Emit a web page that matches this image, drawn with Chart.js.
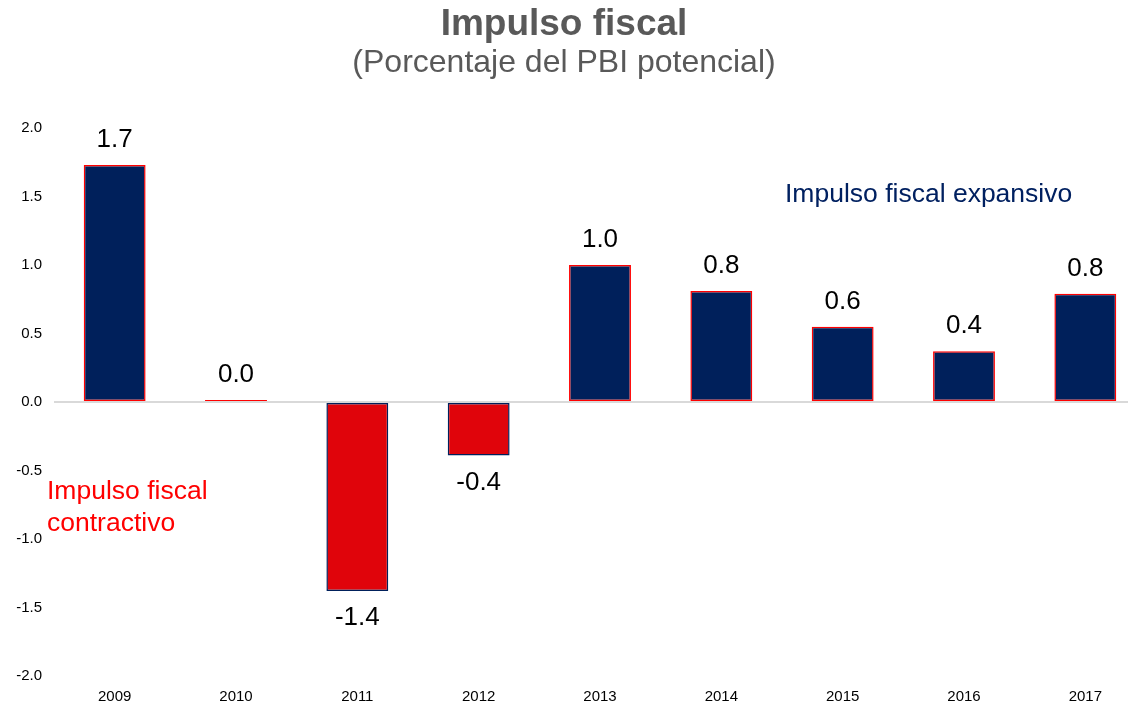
<!DOCTYPE html>
<html>
<head>
<meta charset="utf-8">
<script src="https://cdn.jsdelivr.net/npm/chart.js@4.4.1/dist/chart.umd.min.js"></script>
<style>
    html, body { margin: 0; padding: 0; background: #fff; overflow: hidden; }
    #wrap { position: relative; width: 1128px; height: 703px; overflow: hidden; font-family: "Liberation Sans", Arial, sans-serif; }
    #fiscalChart { position: absolute; left: 0; top: 0; }
    .title { position: absolute; left: 0; width: 1128px; text-align: center; color: #595959; }
    .note { position: absolute; font-size: 26.5px; line-height: 32px; }
</style>
</head>
<body>
<div id="wrap">
    <canvas id="fiscalChart" width="1146" height="703"></canvas>
    <div class="title" style="top:2px; font-size:37px; font-weight:bold;">Impulso fiscal</div>
    <div class="title" style="top:43px; font-size:32px;">(Porcentaje del PBI potencial)</div>
    <div class="note" style="left:785px; top:177px; color:#002060;">Impulso fiscal expansivo</div>
    <div class="note" style="left:47px; top:474px; color:#ff0000;">Impulso fiscal<br>contractivo</div>
</div>
<script>
// datos del gráfico
const years = ['2009', '2010', '2011', '2012', '2013', '2014', '2015', '2016', '2017'];
const impulso = [1.73, 0.015, -1.38, -0.39, 1.0, 0.81, 0.55, 0.37, 0.79];
const yTicks = [-2.0, -1.5, -1.0, -0.5, 0.0, 0.5, 1.0, 1.5, 2.0];

const NAVY = '#00205b';
const RED = '#e0040b';

// etiquetas de valor encima / debajo de cada barra
const valueLabels = {
    id: 'valueLabels',
    afterDatasetsDraw(chart) {
        const ctx = chart.ctx;
        const meta = chart.getDatasetMeta(0);
        ctx.save();
        ctx.font = '26px "Liberation Sans", Arial, sans-serif';
        ctx.fillStyle = '#000';
        ctx.textAlign = 'center';
        ctx.textBaseline = 'middle';
        meta.data.forEach((bar, i) => {
            const v = impulso[i];
            const y = v >= 0 ? bar.y - 25 : bar.y + 27;
            ctx.fillText(v.toFixed(1), bar.x, y);
        });
        ctx.restore();
    }
};

new Chart(document.getElementById('fiscalChart'), {
    type: 'bar',
    data: {
        labels: years,
        datasets: [{
            data: impulso,
            backgroundColor: impulso.map(v => v >= 0 ? NAVY : RED),
            borderColor: impulso.map(v => v >= 0 ? '#ff0000' : NAVY),
            borderWidth: 1.5,
            borderSkipped: false,
            barPercentage: 0.51,
            categoryPercentage: 1.0
        }]
    },
    options: {
        responsive: false,
        animation: false,
        devicePixelRatio: 1,
        layout: { padding: { top: 128, left: 0, right: 0, bottom: 0 } },
        plugins: {
            legend: { display: false },
            title: { display: false },
            tooltip: { enabled: false }
        },
        scales: {
            x: {
                grid: { display: false },
                border: { display: false },
                ticks: {
                    color: '#000',
                    font: { family: '"Liberation Sans", Arial, sans-serif', size: 15 },
                    padding: 4
                },
                afterFit(scale) { scale.height = 27; }
            },
            y: {
                min: -2,
                max: 2,
                afterBuildTicks(scale) { scale.ticks = yTicks.map(v => ({ value: v })); },
                grid: {
                    drawTicks: false,
                    color: c => c.tick && c.tick.value === 0 ? '#d9d9d9' : 'rgba(0,0,0,0)',
                    lineWidth: 2
                },
                border: { display: false },
                ticks: {
                    color: '#000',
                    padding: 12,
                    font: { family: '"Liberation Sans", Arial, sans-serif', size: 15 },
                    callback: v => v.toFixed(1)
                },
                afterFit(scale) { scale.width = 54; }
            }
        }
    },
    plugins: [valueLabels]
});
</script>
</body>
</html>
